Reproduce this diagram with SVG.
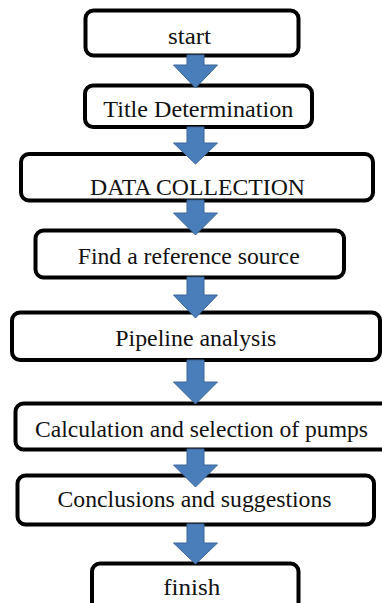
<svg xmlns="http://www.w3.org/2000/svg" width="382" height="603" viewBox="0 0 382 603">
<style>
.box{fill:#fff;stroke:#000;stroke-width:4}
.lbl{font-size:24px;fill:#111;text-anchor:middle}
.arr{fill:#4a7ebb;stroke:#3a6698;stroke-width:1}
</style>
<rect width="382" height="603" fill="#fff"/>
<g font-family="Liberation Serif, DejaVu Serif, serif">
<g id="n1"><rect class="box" x="85.5" y="10.5" width="213" height="45" rx="8"/><text class="lbl" x="189.5" y="44" textLength="43" lengthAdjust="spacingAndGlyphs">start</text></g>
<g id="n2"><rect class="box" x="85" y="85.5" width="227" height="41.5" rx="8"/><text class="lbl" x="198.3" y="117.3" textLength="190" lengthAdjust="spacingAndGlyphs">Title Determination</text></g>
<g id="n3"><rect class="box" x="21" y="154" width="352" height="46.5" rx="8"/><text class="lbl" x="197.5" y="195" textLength="215" lengthAdjust="spacingAndGlyphs">DATA COLLECTION</text></g>
<g id="n4"><rect class="box" x="35.5" y="230.5" width="308.5" height="47" rx="8"/><text class="lbl" x="188.7" y="264" textLength="222" lengthAdjust="spacingAndGlyphs">Find a reference source</text></g>
<g id="n5"><rect class="box" x="12" y="312.5" width="368" height="47.5" rx="8"/><text class="lbl" x="195.8" y="345.5" textLength="161" lengthAdjust="spacingAndGlyphs">Pipeline analysis</text></g>
<g id="n6"><rect class="box" x="15.5" y="403.5" width="380" height="46" rx="8"/><text class="lbl" x="201.5" y="436.7" textLength="333" lengthAdjust="spacingAndGlyphs">Calculation and selection of pumps</text></g>
<g id="n7"><rect class="box" x="17.5" y="475.5" width="356.5" height="49" rx="8"/><text class="lbl" x="194.5" y="506.7" textLength="274" lengthAdjust="spacingAndGlyphs">Conclusions and suggestions</text></g>
<g id="n8"><rect class="box" x="92" y="563.5" width="206.5" height="60" rx="8"/><text class="lbl" x="191.7" y="595" textLength="57" lengthAdjust="spacingAndGlyphs">finish</text></g>
</g>
<g id="connectors">
<path class="arr" d="M187 55H204V65H217.5L195.5 88L173.5 65H187Z"/>
<path class="arr" d="M187 127H204V143H217.5L195.5 164L173.5 143H187Z"/>
<path class="arr" d="M187 200H204V213H217.5L195.5 235L173.5 213H187Z"/>
<path class="arr" d="M187 277H204V295H217.5L195.5 318L173.5 295H187Z"/>
<path class="arr" d="M187 360H204V382H217.5L195.5 404L173.5 382H187Z"/>
<path class="arr" d="M187 449H204V465H217.5L195.5 487L173.5 465H187Z"/>
<path class="arr" d="M187 524H204V543H217.5L195.5 564L173.5 543H187Z"/>
</g>
</svg>
